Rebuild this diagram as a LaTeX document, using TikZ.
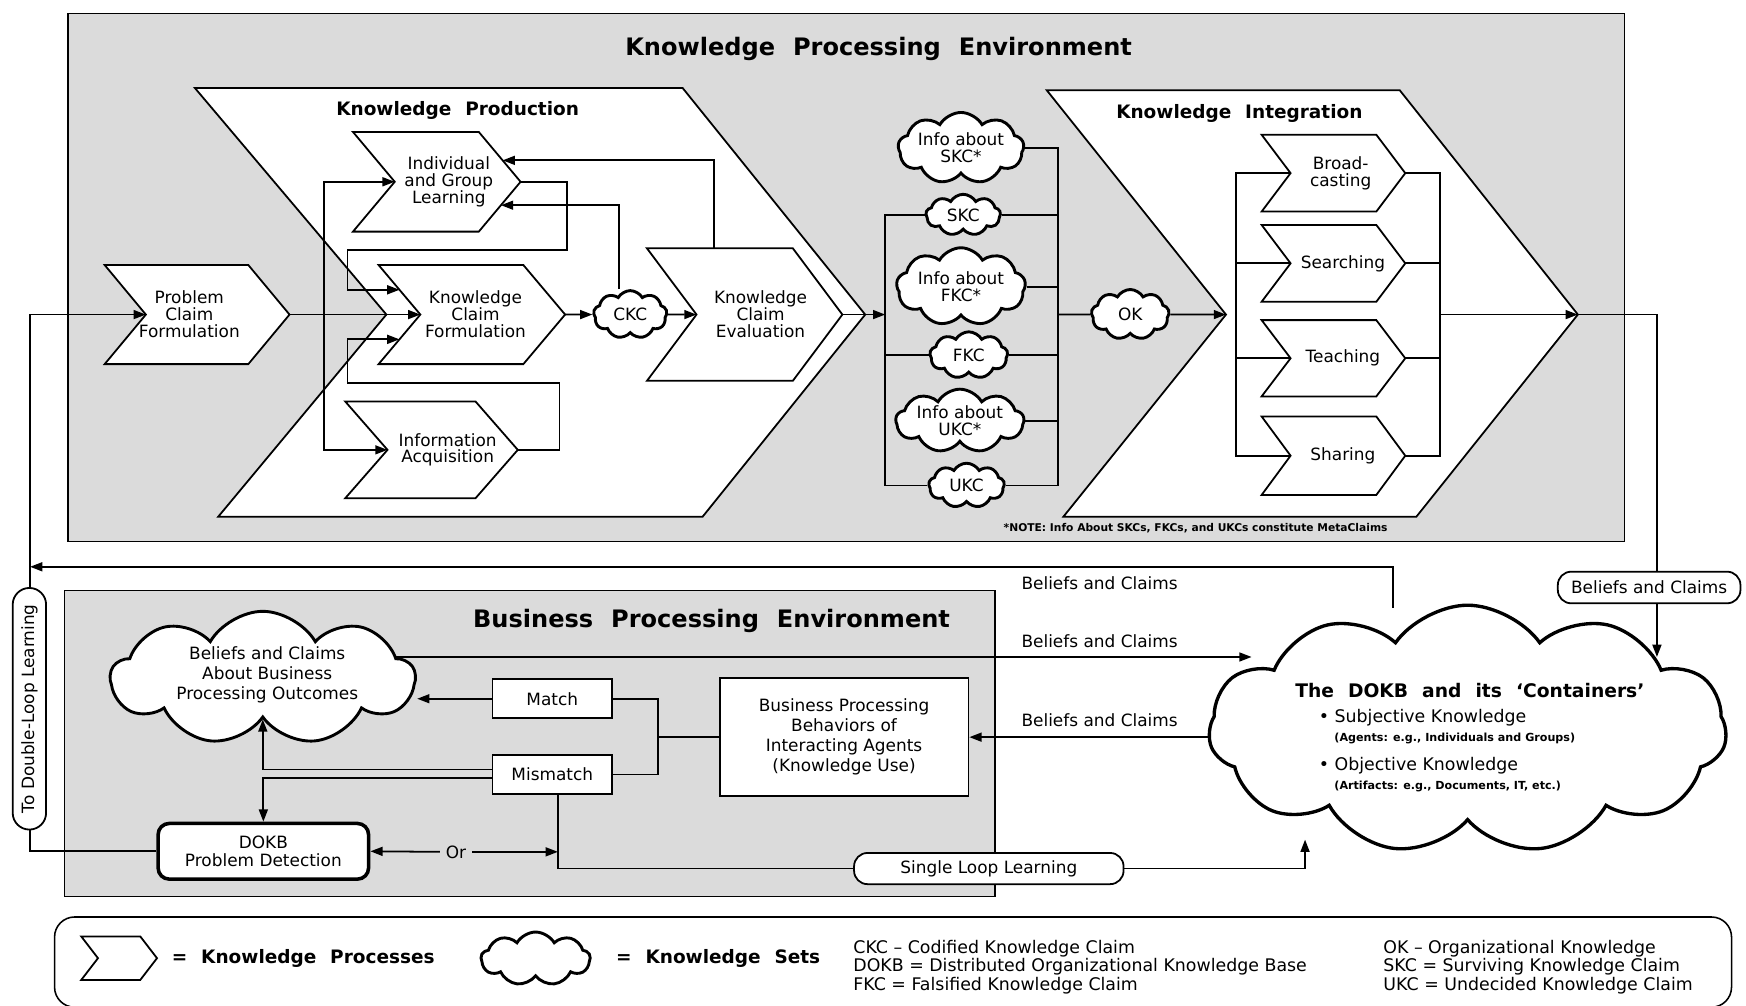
\documentclass[tikz,border=0pt]{standalone}
\usepackage{fontspec}
\setmainfont{DejaVu Sans}
\usetikzlibrary{shapes.symbols,arrows.meta,calc}
\definecolor{envgray}{gray}{0.86}
\pgfdeclarelayer{back}
\pgfdeclarelayer{lines}
\pgfsetlayers{back,lines,main}
\newcommand\fs[2]{\fontsize{#1}{#2}\selectfont}
\newcommand\wsp{\hspace{.4em}}
% knowledge process: name, left x, right x, top y, bottom y, tip depth, text x, text
\newcommand\kproc[8]{%
  \begin{pgfonlayer}{back}
    \draw[proc] (#2,#4) coordinate (#1-nw) -- (#3,#4) coordinate (#1-ne)
      -- ({#3+#6},{(#4+#5)/2}) coordinate (#1-out)
      -- (#3,#5) coordinate (#1-se) -- (#2,#5) coordinate (#1-sw)
      -- ({#2+#6},{(#4+#5)/2}) coordinate (#1-in) -- cycle;
  \end{pgfonlayer}
  \node[ptxt] (#1) at (#7,{(#4+#5)/2}) {#8};}
% knowledge set: name, x, y, width, height, text
\newcommand\kset[6]{%
  \node[kset, minimum width=#4*0.5pt, minimum height=#5*0.5pt] (#1) at (#2,#3) {};
  \node[ptxt] (#1-t) at (#1) {#6};}
\tikzset{
  env/.style={draw, line width=.6pt, fill=envgray},
  proc/.style={draw, line width=.8pt, fill=white},
  ptxt/.style={align=center, inner sep=0pt, font=\fs{7.6}{7.6}},
  kset/.style={cloud, cloud puffs=9, cloud puff arc=120, cloud ignores aspect,
    draw, line width=1.3pt, fill=white, inner sep=0pt},
  link/.style={line width=.8pt},
  flow/.style={link, -{Triangle[length=5.5pt,width=4pt]}},
  act/.style={draw, line width=.8pt, fill=white, align=center, inner sep=0pt,
    font=\fs{7.6}{9}},
  pill/.style={act, rounded corners=6pt},
  lbl/.style={inner sep=0pt, font=\fs{7.6}{8}},
  ttl/.style={inner sep=0pt, font=\bfseries\fs{10.8}{12}},
  sub/.style={inner sep=0pt, font=\bfseries\fs{8.3}{10}},
  abbr/.style={inner sep=0pt, align=left, anchor=west, font=\fs{7.8}{8.25}},
}
\begin{document}
\begin{tikzpicture}[x=.5pt,y=-.5pt]
\useasboundingbox (0,0) rectangle (1568,903.4);

% environments
\begin{pgfonlayer}{back}
  \draw[env] (61,12) rectangle (1459,486.5);
  \draw[env] (58,530.5) rectangle (893.5,805);
  \draw[proc] (175,79) -- (613,79) -- (777,282.5) coordinate (kp-out)
    -- (631,464) -- (196,464) -- (347,282.5) coordinate (kp-in) -- cycle;
  \draw[proc] (940,81) -- (1257,81) -- (1417,282.5) coordinate (ki-out)
    -- (1272,464) -- (955,464) -- (1101,282.5) coordinate (ki-in) -- cycle;
\end{pgfonlayer}
\node[ttl] (kpe) at (789,44) {Knowledge\wsp{} Processing\wsp{} Environment};
\node[ttl] (bpe) at (639,558) {Business\wsp{} Processing\wsp{} Environment};
\node[sub] (kpt) at (411,99) {Knowledge\wsp{} Production};
\node[sub] (kit) at (1113,102) {Knowledge\wsp{} Integration};

% knowledge production
\kproc{pcf}{94}{223}{238}{327}{37}{170}{Problem\\Claim\\Formulation}
\kproc{igl}{317}{430}{118.5}{208}{37.5}{403}{Individual\\and Group\\Learning}
\kproc{kcf}{340}{470}{238}{327}{37.5}{427}{Knowledge\\Claim\\Formulation}
\kproc{kce}{581}{712}{223}{342}{44.5}{683}{Knowledge\\Claim\\Evaluation}
\kproc{ia}{310}{427}{360.5}{447.5}{38}{402}{Information\\Acquisition}
\kset{ckc}{566}{282.5}{66}{43}{CKC}

% knowledge sets
\kset{isk}{863}{133}{113}{64}{Info about\\SKC*}
\kset{skc}{865}{193}{67}{37}{SKC}
\kset{ifk}{863}{257.5}{116}{70}{Info about\\FKC*}
\kset{fkc}{870}{319}{70}{42}{FKC}
\kset{iuk}{862}{378}{115}{57}{Info about\\UKC*}
\kset{ukc}{868}{436}{68}{40}{UKC}
\kset{ok}{1015}{282.5}{70}{45}{OK}
\node[inner sep=0pt, anchor=west, font=\bfseries\fs{4.8}{5}] (note) at (901,474)
  {*NOTE: Info About SKCs, FKCs, and UKCs constitute MetaClaims};

% knowledge integration
\kproc{brd}{1133}{1236}{121}{190}{26}{1204}{Broad-\\casting}
\kproc{srch}{1133}{1236}{202}{271}{26}{1206}{Searching}
\kproc{tch}{1133}{1236}{287.5}{356}{26}{1206}{Teaching}
\kproc{shr}{1133}{1236}{374}{444.5}{26}{1206}{Sharing}

% business processing
\kset{bco}{236}{609}{273}{120}{}
\node[ptxt, font=\fs{7.6}{9}] (bco-t) at (240,606)
  {Beliefs and Claims\\About Business\\Processing Outcomes};
\node[act, minimum width=53.8pt, minimum height=17.6pt] (match) at (496,627.5) {Match};
\node[act, minimum width=53.8pt, minimum height=17.5pt] (mismatch) at (496,695.5) {Mismatch};
\node[act, minimum width=111.7pt, minimum height=52.9pt] (bpb) at (758,662)
  {Business Processing\\Behaviors of\\Interacting Agents\\(Knowledge Use)};
\node[act, line width=1.6pt, rounded corners=5pt, minimum width=94.5pt,
  minimum height=25pt, font=\fs{7.6}{8.2}] (pd) at (236.5,764.5) {DOKB\\Problem Detection};
\node[lbl, inner sep=2.5pt] (or) at (409.5,765) {Or};
\node[pill, minimum width=121pt, minimum height=14pt] (sll) at (888,780) {Single Loop Learning};
\node[pill, rotate=90, rounded corners=7.5pt, minimum width=108.5pt,
  minimum height=15pt] (dlb) at (26.4,636.5) {To Double-Loop Learning};

% the DOKB
\node[kset, cloud puffs=11, cloud puff arc=110, line width=1.5pt,
  minimum width=232.5pt, minimum height=111.5pt] (dokb) at (1318,655) {};
\node[inner sep=0pt, font=\bfseries\fs{8.4}{10}] (dkt) at (1320,620)
  {The\wsp{} DOKB\wsp{} and\wsp{} its\wsp{} `Containers'};
\node[lbl, anchor=west, font=\fs{7.8}{8}] (dks) at (1184,644.5) {\textbullet\ Subjective Knowledge};
\node[lbl, anchor=west, font=\bfseries\fs{5}{6}] (dksa) at (1198,663)
  {(Agents: e.g., Individuals and Groups)};
\node[lbl, anchor=west, font=\fs{7.8}{8}] (dko) at (1184,688) {\textbullet\ Objective Knowledge};
\node[lbl, anchor=west, font=\bfseries\fs{5}{6}] (dkoa) at (1198,706.5)
  {(Artifacts: e.g., Documents, IT, etc.)};
\node[pill, minimum width=82pt, minimum height=14.2pt] (bc3) at (1481,527.6) {Beliefs and Claims};
\node[lbl, anchor=west] (bct) at (917,524) {Beliefs and Claims};
\node[lbl, anchor=west] (bcm) at (917,576) {Beliefs and Claims};
\node[lbl, anchor=west] (bcl) at (917,646.6) {Beliefs and Claims};

% legend
\begin{pgfonlayer}{back}
  \node[draw, line width=.7pt, rounded corners=9pt, minimum width=753pt,
    minimum height=40.5pt] (leg) at (802,864) {};
\end{pgfonlayer}
\kproc{lgp}{73}{126}{841}{880}{15}{100}{}
\kset{lgc}{481}{861}{98}{48}{}
\node[inner sep=0pt, anchor=west, font=\bfseries\fs{8.3}{10}] (lgpt) at (154,861)
  {=\wsp{} Knowledge\wsp{} Processes};
\node[inner sep=0pt, anchor=west, font=\bfseries\fs{8.3}{10}] (lgct) at (553,861)
  {=\wsp{} Knowledge\wsp{} Sets};
\node[abbr] (ab1) at (766,868.5)
  {CKC -- Codified Knowledge Claim\\DOKB = Distributed Organizational Knowledge Base\\FKC = Falsified Knowledge Claim};
\node[abbr] (ab2) at (1242,868.5)
  {OK -- Organizational Knowledge\\SKC = Surviving Knowledge Claim\\UKC = Undecided Knowledge Claim};

% connectors
\coordinate (br) at (291,282.5);
\coordinate (lb) at (795,282.5);
\coordinate (rb) at (950,282.5);
\coordinate (kil) at (1110,282.5);
\coordinate (kir) at (1293,282.5);
\coordinate (dll) at (27,509);
\coordinate (dkin) at (1488,590);
\coordinate (dkin2) at (1124,590);
\coordinate (dktop) at (1251,546);
\coordinate (dkbot) at (1172,754);
\coordinate (bb) at (591,662);
\coordinate (mmb) at (501,713);
\begin{pgfonlayer}{lines}
  \draw[flow] (pd.west) -| (dll) |- (pcf-in);
  \draw[flow] (pcf-out) -- (kcf-in);
  \draw[flow] (br) |- (igl-in);
  \draw[flow] (br) |- (ia-in);
  \draw[flow] (igl-out) -- ++(42,0) |- (312,224.5) |- ($(kcf-nw)!.5!(kcf-in)$);
  \draw[flow] (ia-out) -- ++(37.5,0) |- (312,344.3) |- ($(kcf-sw)!.5!(kcf-in)$);
  \draw[flow] (kcf-out) -- (ckc);
  \draw[flow] (ckc) -- (kce-in);
  \draw[flow] ([xshift=-5pt]ckc.north) |- ($(igl-out)!.47!(igl-se)$);
  \draw[flow] ($(kce-nw)!.46!(kce-ne)$) |- ($(igl-ne)!.57!(igl-out)$);
  \draw[flow] (kce-out) -- (lb);
  \draw[link] (skc.west) -| (lb) |- (ukc.west);
  \draw[link] (fkc.west) -- (fkc.west -| lb);
  \draw[link] (isk.east) -| (rb) |- (ukc.east);
  \foreach \c in {skc,ifk,fkc,iuk} \draw[link] (\c.east) -- (\c.east -| rb);
  \draw[link] (rb) -- (ok);
  \draw[flow] (ok) -- (ki-in);
  \draw[link] (brd-in) -| (kil) |- (shr-in);
  \draw[link] (brd-out) -| (kir) |- (shr-out);
  \foreach \p in {srch,tch} {
    \draw[link] (\p-in) -- (\p-in -| kil);
    \draw[link] (\p-out) -- (\p-out -| kir);
  }
  \draw[flow] (kir) -- (ki-out);
  \draw[flow] (ki-out) -| (dkin);
  \draw[flow] (dktop) |- (dll);
  \draw[flow] (bco.center |- dkin2) -- (dkin2);
  \draw[flow] (dokb.center |- bpb.east) -- (bpb.east);
  \draw[flow] (match.west) -- (match.west -| bco.east);
  \draw[link] (match.east) -| (bb) |- (mismatch.east);
  \draw[link] (bb) -- (bpb.west);
  \draw[flow] ([yshift=2.25pt]mismatch.west) -| (bco.south);
  \draw[flow] ([yshift=-1.75pt]mismatch.west) -| (pd.north);
  \draw[flow] (or.west) -- (pd.east);
  \draw[flow] (or.east) -- (or.east -| mmb);
  \draw[link] (mmb) |- (sll.west);
  \draw[flow] (sll.east) -| (dkbot);
\end{pgfonlayer}
\end{tikzpicture}
\end{document}
